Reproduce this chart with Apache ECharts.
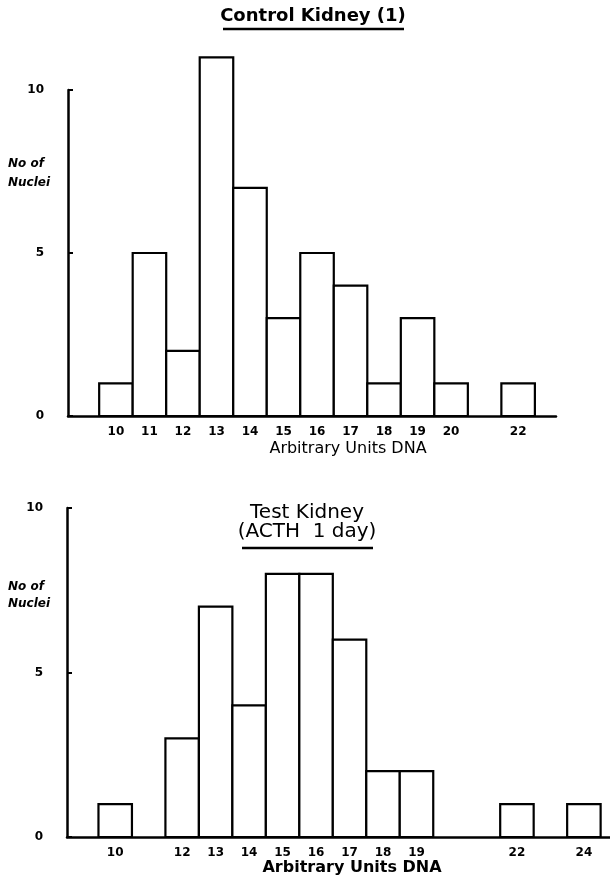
<!DOCTYPE html>
<html>
<head>
<meta charset="utf-8">
<script src="https://cdn.jsdelivr.net/npm/echarts@6/dist/echarts.min.js"></script>
<style>
  html, body { margin: 0; padding: 0; background: #fff; }
  #main { width: 610px; height: 885px; }
</style>
</head>
<body>
<div id="main"></div>
<script>
// Control kidney (1)
var controlUnits = [10, 11, 12, 13, 14, 15, 16, 17, 18, 19, 20, 22];
var controlCounts = [1, 5, 2, 11, 7, 3, 5, 4, 1, 3, 1, 1];
var controlTicks = [10, 11, 12, 13, 14, 15, 16, 17, 18, 19, 20, 22];

// Test kidney (ACTH 1 day)
var testUnits = [10, 12, 13, 14, 15, 16, 17, 18, 19, 22, 24];
var testCounts = [1, 3, 7, 4, 8, 8, 6, 2, 2, 1, 1];
var testTicks = [10, 12, 13, 14, 15, 16, 17, 18, 19, 22, 24];

var yTicks = [0, 5, 10];

var chartDom = document.getElementById('main');
var myChart = echarts.init(chartDom);
var option;

var font = "'DejaVu Sans', sans-serif";

function pairs(xs, ys) {
  return xs.map(function (x, i) { return [x, ys[i]]; });
}

// each bin is one unit wide, centred on its value
function renderBin(params, api) {
  var x = api.value(0);
  var y = api.value(1);
  var p0 = api.coord([x - 0.5, 0]);
  var p1 = api.coord([x + 0.5, y]);
  return {
    type: 'rect',
    shape: { x: p0[0], y: p1[1], width: p1[0] - p0[0], height: p0[1] - p1[1] },
    style: { fill: '#fff', stroke: '#000', lineWidth: 2.2 }
  };
}

function xAxisFor(idx, min, max, ticks) {
  return {
    type: 'value',
    gridIndex: idx,
    min: min,
    max: max,
    splitLine: { show: false },
    axisLine: { show: true, onZero: false, lineStyle: { color: '#000', width: 2.5 } },
    axisTick: { show: false },
    axisLabel: {
      customValues: ticks,
      margin: 10,
      color: '#000',
      fontFamily: font,
      fontSize: 12,
      fontWeight: 'bold'
    }
  };
}

function yAxisFor(idx) {
  return {
    type: 'value',
    gridIndex: idx,
    min: 0,
    max: 10,
    splitLine: { show: false },
    axisLine: { show: true, lineStyle: { color: '#000', width: 2.5 } },
    axisTick: { show: true, inside: true, length: 5, customValues: yTicks, lineStyle: { color: '#000', width: 2 } },
    axisLabel: {
      customValues: yTicks,
      margin: 24,
      color: '#000',
      fontFamily: font,
      fontSize: 12,
      fontWeight: 'bold'
    }
  };
}

option = {
  backgroundColor: '#fff',
  animation: false,
  grid: [
    { left: 68, top: 90, width: 488, height: 326 },
    { left: 67, top: 508, width: 543, height: 329 }
  ],
  xAxis: [
    xAxisFor(0, 8.57, 23.13, controlTicks),
    xAxisFor(1, 8.56, 24.78, testTicks)
  ],
  yAxis: [yAxisFor(0), yAxisFor(1)],
  series: [
    {
      name: 'Control Kidney (1)',
      type: 'custom',
      xAxisIndex: 0,
      yAxisIndex: 0,
      clip: false,
      renderItem: renderBin,
      data: pairs(controlUnits, controlCounts)
    },
    {
      name: 'Test Kidney (ACTH 1 day)',
      type: 'custom',
      xAxisIndex: 1,
      yAxisIndex: 1,
      clip: false,
      renderItem: renderBin,
      data: pairs(testUnits, testCounts)
    }
  ],
  graphic: [
    // top panel
    { type: 'text', x: 313, y: 7, style: { text: 'Control Kidney (1)', font: 'bold 18px ' + font, fill: '#000', align: 'center' } },
    { type: 'line', shape: { x1: 223, y1: 29, x2: 404, y2: 29 }, style: { stroke: '#000', lineWidth: 2.5 } },
    { type: 'text', left: 8, top: 154, style: { text: 'No of\nNuclei', font: 'italic bold 12px ' + font, lineHeight: 19, fill: '#000' } },
    { type: 'text', x: 348, y: 441, style: { text: 'Arbitrary Units DNA', font: '16px ' + font, fill: '#000', align: 'center' } },
    // bottom panel
    { type: 'text', x: 307, y: 503, style: { text: 'Test Kidney\n(ACTH  1 day)', font: '20px ' + font, lineHeight: 19, fill: '#000', align: 'center' } },
    { type: 'line', shape: { x1: 242, y1: 548, x2: 373, y2: 548 }, style: { stroke: '#000', lineWidth: 2.5 } },
    { type: 'text', left: 8, top: 578, style: { text: 'No of\nNuclei', font: 'italic bold 12px ' + font, lineHeight: 17, fill: '#000' } },
    { type: 'text', x: 352, y: 860, style: { text: 'Arbitrary Units DNA', font: 'bold 16px ' + font, fill: '#000', align: 'center' } }
  ]
};

myChart.setOption(option);
</script>
</body>
</html>
